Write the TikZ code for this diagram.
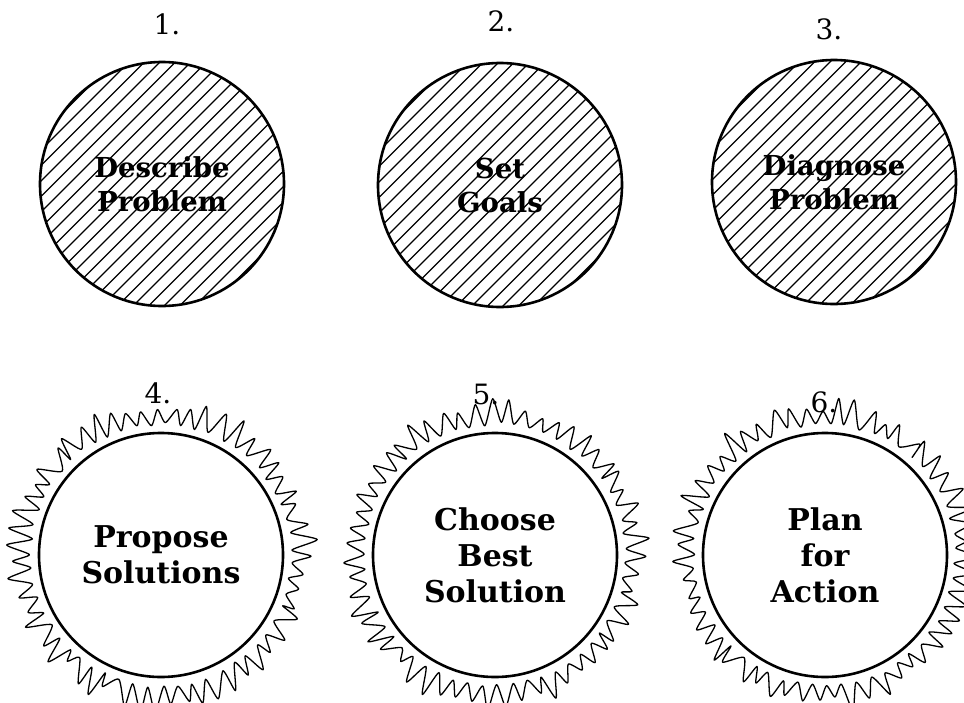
\documentclass[tikz,border=0pt]{standalone}
\usepackage{fontspec}
\setmainfont{DejaVu Serif}
\begin{document}
\begin{tikzpicture}[x=1pt,y=-1pt,
  disc/.style={circle, draw, line width=2.6pt, minimum size=244pt, inner sep=0pt,
    align=center, font=\fontsize{30}{36}\selectfont\bfseries},
  hatched/.style={disc, font=\fontsize{27.5}{34}\selectfont\bfseries,
    path picture={
      \foreach \k in {-372,-356.5,...,372}
        \draw[line width=1.3pt]
          ([shift={(\k pt,0pt)}]path picture bounding box.center)
          ++(-200pt,-200pt) -- ++(400pt,400pt);
    }},
  numlabel/.style={font=\fontsize{28}{28}\selectfont, inner sep=0pt},
  fringe/.style={line width=1.3pt, line join=round}
]
\useasboundingbox (0,0) rectangle (964,702);
\pgfmathsetseed{2389}

% top row: hatched discs
\node[hatched] (d1) at (162,184) {Describe\\Problem};
\node[hatched] (d2) at (500,185) {Set\\Goals};
\node[hatched] (d3) at (834,182) {Diagnose\\Problem};

% bottom row: plain discs
\node[disc] (d4) at (161,555) {Propose\\Solutions};
\node[disc] (d5) at (495,555) {Choose\\Best\\Solution};
\node[disc] (d6) at (825,555) {Plan\\for\\Action};

% jagged fringe around the bottom discs
\foreach \d in {d4,d5,d6}{
  \draw[fringe, shift={(\d.center)}]
    plot[smooth cycle, tension=0.4, variable=\t, domain=0:356.73, samples=110]
      ({\t+1.2*rnd}:{ifthenelse(mod(round(\t/3.27),2)==0, 141+18*rnd, 129+4*rnd)});
}

% step numbers
\node[numlabel] (n1) at (167,24) {1.};
\node[numlabel] (n2) at (501,21) {2.};
\node[numlabel] (n3) at (829,29) {3.};
\node[numlabel] (n4) at (158,393) {4.};
\node[numlabel] (n5) at (486,394) {5.};
\node[numlabel] (n6) at (824,402) {6.};
\end{tikzpicture}
\end{document}
